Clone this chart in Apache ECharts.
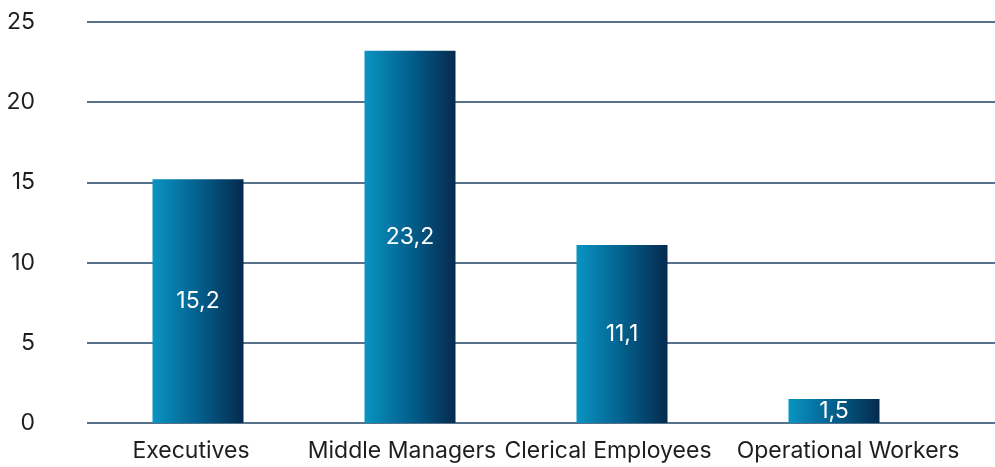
<!DOCTYPE html>
<html>
<head>
<meta charset="utf-8">
<script src="https://cdn.jsdelivr.net/npm/echarts@6/dist/echarts.min.js"></script>
<style>
  html, body { margin: 0; padding: 0; background: #ffffff; }
  #chart { width: 995px; height: 467px; }
</style>
</head>
<body>
<div id="chart"></div>
<script>
// Share of staff by job category
const categories = ['Executives', 'Middle Managers', 'Clerical Employees', 'Operational Workers'];
const values = [15.2, 23.2, 11.1, 1.5];
const yTicks = { min: 0, max: 25, interval: 5 };

// small horizontal nudges for each category label (px, negative = left)
const labelShift = [-7, -8, -14, 14];

const FONT = 'Inter, "Noto Sans", sans-serif';
const GRID_COLOR = '#1f4466';
const TEXT_COLOR = '#1e1e1e';
const FONT_SIZE = 23;

const barGradient = new echarts.graphic.LinearGradient(0, 0, 1, 0, [
  { offset: 0, color: '#0a94c3' },
  { offset: 0.5, color: '#03608d' },
  { offset: 1, color: '#052a4e' }
]);

const chart = echarts.init(document.getElementById('chart'), null, { renderer: 'canvas' });

chart.setOption({
  animation: false,
  backgroundColor: '#ffffff',
  grid: [
    // full-width grid carrying the value axis and its grid lines
    { left: 87, right: 0, top: 22, bottom: 44, containLabel: false },
    // narrower grid holding the bars and category labels
    { left: 92, right: 55, top: 22, bottom: 44, containLabel: false }
  ],
  xAxis: [
    {
      gridIndex: 0, type: 'category', data: categories, show: false
    },
    {
      gridIndex: 1,
      type: 'category',
      data: categories.map((c, i) => ({
        value: c,
        textStyle: {
          padding: labelShift[i] < 0 ? [0, -2 * labelShift[i], 0, 0] : [0, 0, 0, 2 * labelShift[i]]
        }
      })),
      axisLine: { show: false },
      axisTick: { show: false },
      axisLabel: {
        color: TEXT_COLOR,
        fontFamily: FONT,
        fontSize: FONT_SIZE,
        margin: 17,
        interval: 0
      }
    }
  ],
  yAxis: [
    {
      gridIndex: 0,
      type: 'value',
      min: yTicks.min,
      max: yTicks.max,
      interval: yTicks.interval,
      axisLine: { show: false },
      axisTick: { show: false },
      axisLabel: {
        color: TEXT_COLOR,
        fontFamily: FONT,
        fontSize: FONT_SIZE,
        margin: 52
      },
      splitLine: { show: true, lineStyle: { color: GRID_COLOR, width: 1.5 } }
    },
    {
      gridIndex: 1,
      type: 'value',
      min: yTicks.min,
      max: yTicks.max,
      interval: yTicks.interval,
      show: false,
      splitLine: { show: false }
    }
  ],
  series: [
    {
      type: 'bar',
      xAxisIndex: 1,
      yAxisIndex: 1,
      data: values,
      barWidth: 91,
      itemStyle: { color: barGradient },
      label: {
        show: true,
        position: 'inside',
        color: '#ffffff',
        fontFamily: FONT,
        fontSize: FONT_SIZE,
        formatter: p => String(p.value).replace('.', ',')
      }
    }
  ]
});
</script>
</body>
</html>
